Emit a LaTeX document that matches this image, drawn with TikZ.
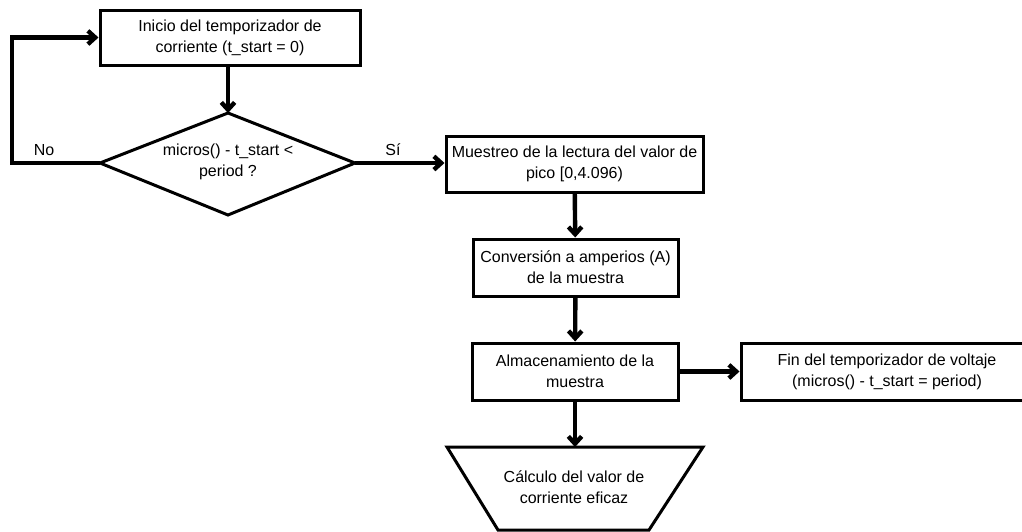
\documentclass[tikz,border=0pt]{standalone}
\usepackage{fontspec}
\setmainfont{Liberation Sans}
\usetikzlibrary{arrows.meta}
\begin{document}
\begin{tikzpicture}[x=0.75pt,y=-0.75pt,
  font=\fontsize{12}{15.75}\selectfont,
  proc/.style={draw,line width=2.25pt,rectangle,inner sep=0pt,align=center,minimum height=42.75pt},
  shapeline/.style={line width=2.25pt,line join=miter},
  txt/.style={inner sep=0pt,align=center},
  flow/.style={line width=3.3pt,-{Straight Barb[length=5.5pt,width=10pt]}},
  lbl/.style={inner sep=0pt}]
\useasboundingbox (0,0) rectangle (1022,532);
\node[proc,minimum width=195pt,minimum height=41.25pt] (b1) at (230,37.5) {Inicio del temporizador de\\corriente (t\_start = 0)};
% decision diamond
\node[txt] (d1) at (228,162) {micros() - t\_start <\\period ?};
\coordinate (dN) at (228,113);
\coordinate (dS) at (228,215);
\coordinate (dW) at (100,163);
\coordinate (dE) at (355,163);
\draw[shapeline] (dN) -- (dE) -- (dS) -- (dW) -- cycle;
\node[proc,minimum width=192.75pt,minimum height=42pt] (b2) at (574.5,164) {Muestreo de la lectura del valor de\\pico [0,4.096)};
\node[proc,minimum width=153.75pt] (b3) at (575.5,267.5) {Conversión a amperios (A)\\de la muestra};
\node[proc,minimum width=154.5pt] (b4) at (575,371.5) {Almacenamiento de la\\muestra};
\node[proc,minimum width=219pt] (b5) at (887,371.5) {Fin del temporizador de voltaje\\(micros() - t\_start = period)};
% trapezoid (manual operation)
\node[txt] (t1) at (574,487.5) {Cálculo del valor de\\corriente eficaz};
\coordinate (tN) at (575,447);
\draw[shapeline] (447,447) -- (703,447) -- (649,530) -- (498,530) -- cycle;
\coordinate (lp) at (12,163);
\node[lbl] (no) at (44,150) {No};
\node[lbl] (si) at (393,150) {Sí};
\draw[flow] (b1.south -| dN) -- (dN);
\draw[flow] (dW) -- (lp) |- (b1.west);
\draw[flow] (dE) -- (dE -| b2.west);
\draw[flow] (b2) -- (b3);
\draw[flow] (b3) -- (b4);
\draw[flow] (b4) -- (b5);
\draw[flow] (b4.south -| tN) -- (tN);
\end{tikzpicture}
\end{document}
